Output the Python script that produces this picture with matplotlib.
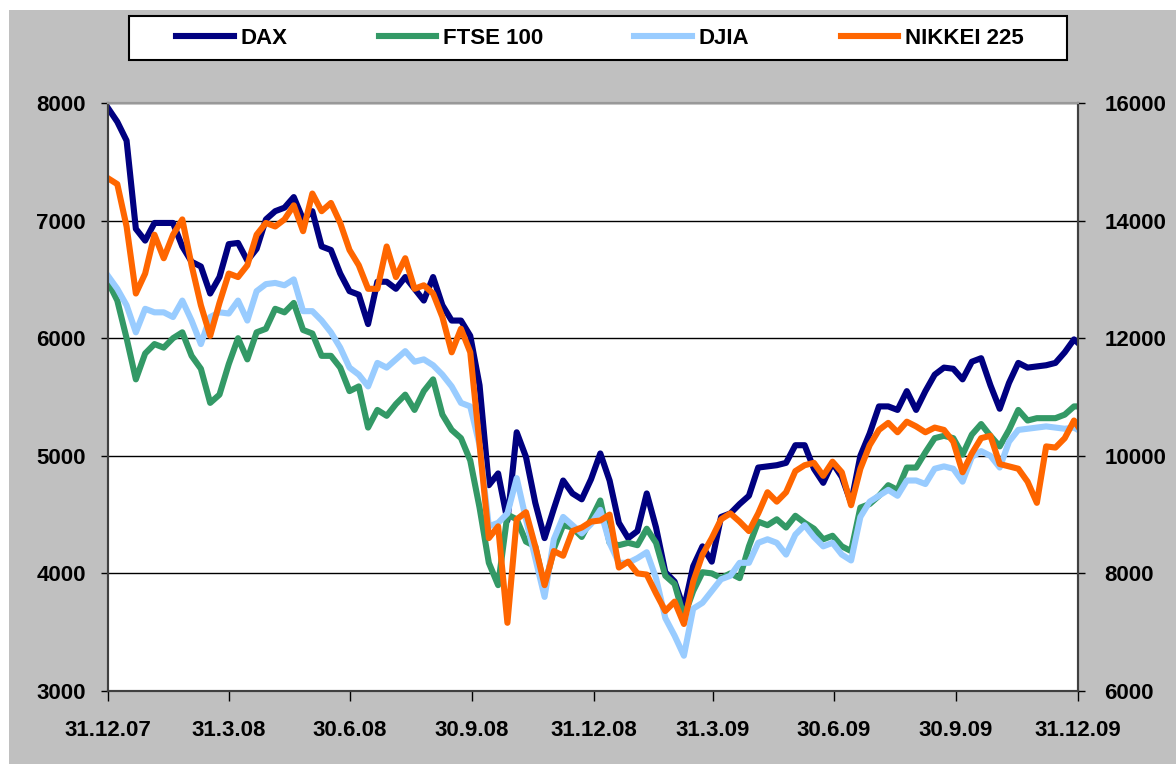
import matplotlib
matplotlib.use("Agg")
import matplotlib.pyplot as plt
from matplotlib.patches import Rectangle
import numpy as np
import pandas as pd

# weekly closes (last point = 31.12.09)
dates = list(pd.date_range("2007-12-31", periods=105, freq="7D")) + [pd.Timestamp("2009-12-31")]

dax = [7957, 7840, 7680, 6930, 6830, 6980, 6980, 6980, 6780, 6650, 6610, 6380, 6520,
       6800, 6810, 6660, 6760, 7010, 7080, 7110, 7200, 7010, 7080, 6780, 6750, 6550, 6400,
       6370, 6120, 6480, 6480, 6420, 6520, 6420, 6320, 6520, 6280, 6150, 6150, 6020, 5600,
       4750, 4850, 4450, 5200, 4990, 4600, 4300, 4550, 4790, 4680, 4630, 4800,
       5020, 4790, 4430, 4300, 4360, 4680, 4390, 4010, 3930, 3700, 4060, 4230, 4100,
       4480, 4510, 4590, 4660, 4900, 4910, 4920, 4940, 5090, 5090, 4890, 4770, 4940,
       4820, 4600, 5000, 5190, 5420, 5420, 5390, 5550, 5390, 5550, 5690, 5750, 5740,
       5650, 5800, 5830, 5600, 5400, 5620, 5790, 5750, 5760, 5770, 5790, 5880, 5990, 5960]

ftse = [6480, 6320, 6000, 5650, 5870, 5950, 5920, 6000, 6050, 5850, 5740, 5450, 5520,
        5780, 6000, 5820, 6050, 6080, 6250, 6220, 6300, 6070, 6040, 5850, 5850, 5750, 5550,
        5590, 5240, 5390, 5340, 5440, 5520, 5390, 5550, 5650, 5350, 5220, 5150, 4960, 4560,
        4090, 3900, 4500, 4460, 4270, 4230, 3880, 4210, 4410, 4390, 4310, 4460,
        4620, 4260, 4240, 4260, 4240, 4380, 4260, 3980, 3910, 3630, 3850, 4010, 4000,
        3960, 4000, 3960, 4230, 4440, 4410, 4460, 4390, 4490, 4430, 4380, 4290, 4320,
        4230, 4190, 4560, 4590, 4660, 4750, 4710, 4900, 4900, 5030, 5150, 5170, 5150,
        5010, 5180, 5270, 5170, 5080, 5220, 5390, 5300, 5320, 5320, 5320, 5350, 5420, 5420]

djia_half = [6530, 6420, 6280, 6050, 6250, 6220, 6220, 6180, 6320, 6150, 5950, 6180, 6220,
             6210, 6320, 6150, 6400, 6460, 6470, 6450, 6500, 6230, 6230, 6150, 6050, 5920, 5750,
             5690, 5590, 5790, 5750, 5820, 5890, 5800, 5820, 5770, 5690, 5590, 5450, 5420, 5090,
             4400, 4430, 4510, 4810, 4460, 4130, 3800, 4290, 4480, 4410, 4340, 4420,
             4540, 4260, 4090, 4090, 4130, 4180, 3960, 3620, 3470, 3300, 3700, 3750, 3850,
             3950, 3980, 4090, 4090, 4260, 4290, 4260, 4160, 4330, 4410, 4310, 4230, 4260,
             4160, 4110, 4480, 4610, 4660, 4710, 4660, 4790, 4790, 4760, 4890, 4910, 4890,
             4780, 4990, 5040, 5000, 4900, 5120, 5220, 5230, 5240, 5250, 5240, 5230, 5240, 5220]

nikkei_half = [7360, 7310, 6950, 6380, 6550, 6880, 6680, 6880, 7010, 6620, 6280, 6020, 6300,
               6550, 6520, 6620, 6880, 6980, 6950, 7010, 7130, 6910, 7230, 7080, 7150, 6980, 6750,
               6620, 6420, 6420, 6780, 6520, 6680, 6420, 6450, 6380, 6180, 5880, 6080, 5880, 5100,
               4300, 4400, 3580, 4460, 4520, 4230, 3900, 4190, 4150, 4360, 4390, 4440,
               4450, 4500, 4050, 4100, 4000, 3990, 3830, 3680, 3760, 3570, 3930, 4160, 4300,
               4460, 4510, 4440, 4360, 4510, 4690, 4610, 4690, 4870, 4920, 4940, 4830, 4950,
               4860, 4580, 4890, 5090, 5220, 5280, 5200, 5290, 5250, 5200, 5240, 5220, 5120,
               4860, 5020, 5150, 5170, 4930, 4910, 4890, 4780, 4600, 5080, 5070, 5150, 5300, 5250]

# DJIA and NIKKEI are on the right axis (twice the left scale)
djia = [2 * v for v in djia_half]
nikkei = [2 * v for v in nikkei_half]

tick_dates = ["2007-12-31", "2008-03-31", "2008-06-30", "2008-09-30", "2008-12-31",
              "2009-03-31", "2009-06-30", "2009-09-30", "2009-12-31"]
tick_labels = ["31.12.07", "31.3.08", "30.6.08", "30.9.08", "31.12.08",
               "31.3.09", "30.6.09", "30.9.09", "31.12.09"]

plt.rcParams["font.family"] = ["Liberation Sans", "DejaVu Sans"]
plt.rcParams["font.weight"] = "bold"
fs = 16

fig = plt.figure(figsize=(11.76, 7.64), dpi=100, facecolor="white")
fig.patches.append(Rectangle((9 / 1176, 0), 1, 1 - 10 / 764, transform=fig.transFigure,
                             fc="#C0C0C0", ec="none", zorder=-10))
fig.patches.append(Rectangle((129 / 1176, 1 - 60 / 764), 938 / 1176, 44 / 764,
                             transform=fig.transFigure, fc="white", ec="black", lw=1.5, zorder=1))

ax = fig.add_axes([108 / 1176, 1 - 691 / 764, 970 / 1176, 588 / 764])
ax2 = ax.twinx()
ax.set_facecolor("white")

lw = 4.4
l1, = ax.plot(dates, dax, color="#000080", lw=lw, label="DAX", solid_joinstyle="round")
l2, = ax.plot(dates, ftse, color="#339966", lw=lw, label="FTSE 100", solid_joinstyle="round")
l3, = ax2.plot(dates, djia, color="#99CCFF", lw=lw, label="DJIA", solid_joinstyle="round")
l4, = ax2.plot(dates, nikkei, color="#FF6600", lw=lw, label="NIKKEI 225", solid_joinstyle="round")

ax.set_ylim(3000, 8000)
ax2.set_ylim(6000, 16000)
ax.set_yticks(np.arange(3000, 8001, 1000))
ax2.set_yticks(np.arange(6000, 16001, 2000))
ax.yaxis.grid(True, color="black", lw=1)
ax.set_axisbelow(True)

tk = [pd.Timestamp(d) for d in tick_dates]
ax.set_xlim(tk[0], tk[-1])
ax.set_xticks(tk)
ax.set_xticklabels(tick_labels)

ax.tick_params(axis="x", direction="out", length=7, width=1, pad=14, labelsize=fs)
ax.tick_params(axis="y", direction="out", length=5, width=1, pad=11, labelsize=fs)
ax2.tick_params(axis="y", direction="out", length=5, width=1, pad=14, labelsize=fs)

for a in (ax, ax2):
    for s in a.spines.values():
        s.set_color("#404040")
        s.set_linewidth(1.5)
    a.spines["top"].set_color("#999999")

leg = fig.legend(handles=[l1, l2, l3, l4], ncol=4, loc="center",
                 bbox_to_anchor=(600 / 1176, 1 - 38 / 764), frameon=False,
                 fontsize=fs, handlelength=2.6, handletextpad=0.3, columnspacing=4.1)
leg.set_zorder(5)

fig.savefig("out.png", dpi=100, facecolor=fig.get_facecolor())
